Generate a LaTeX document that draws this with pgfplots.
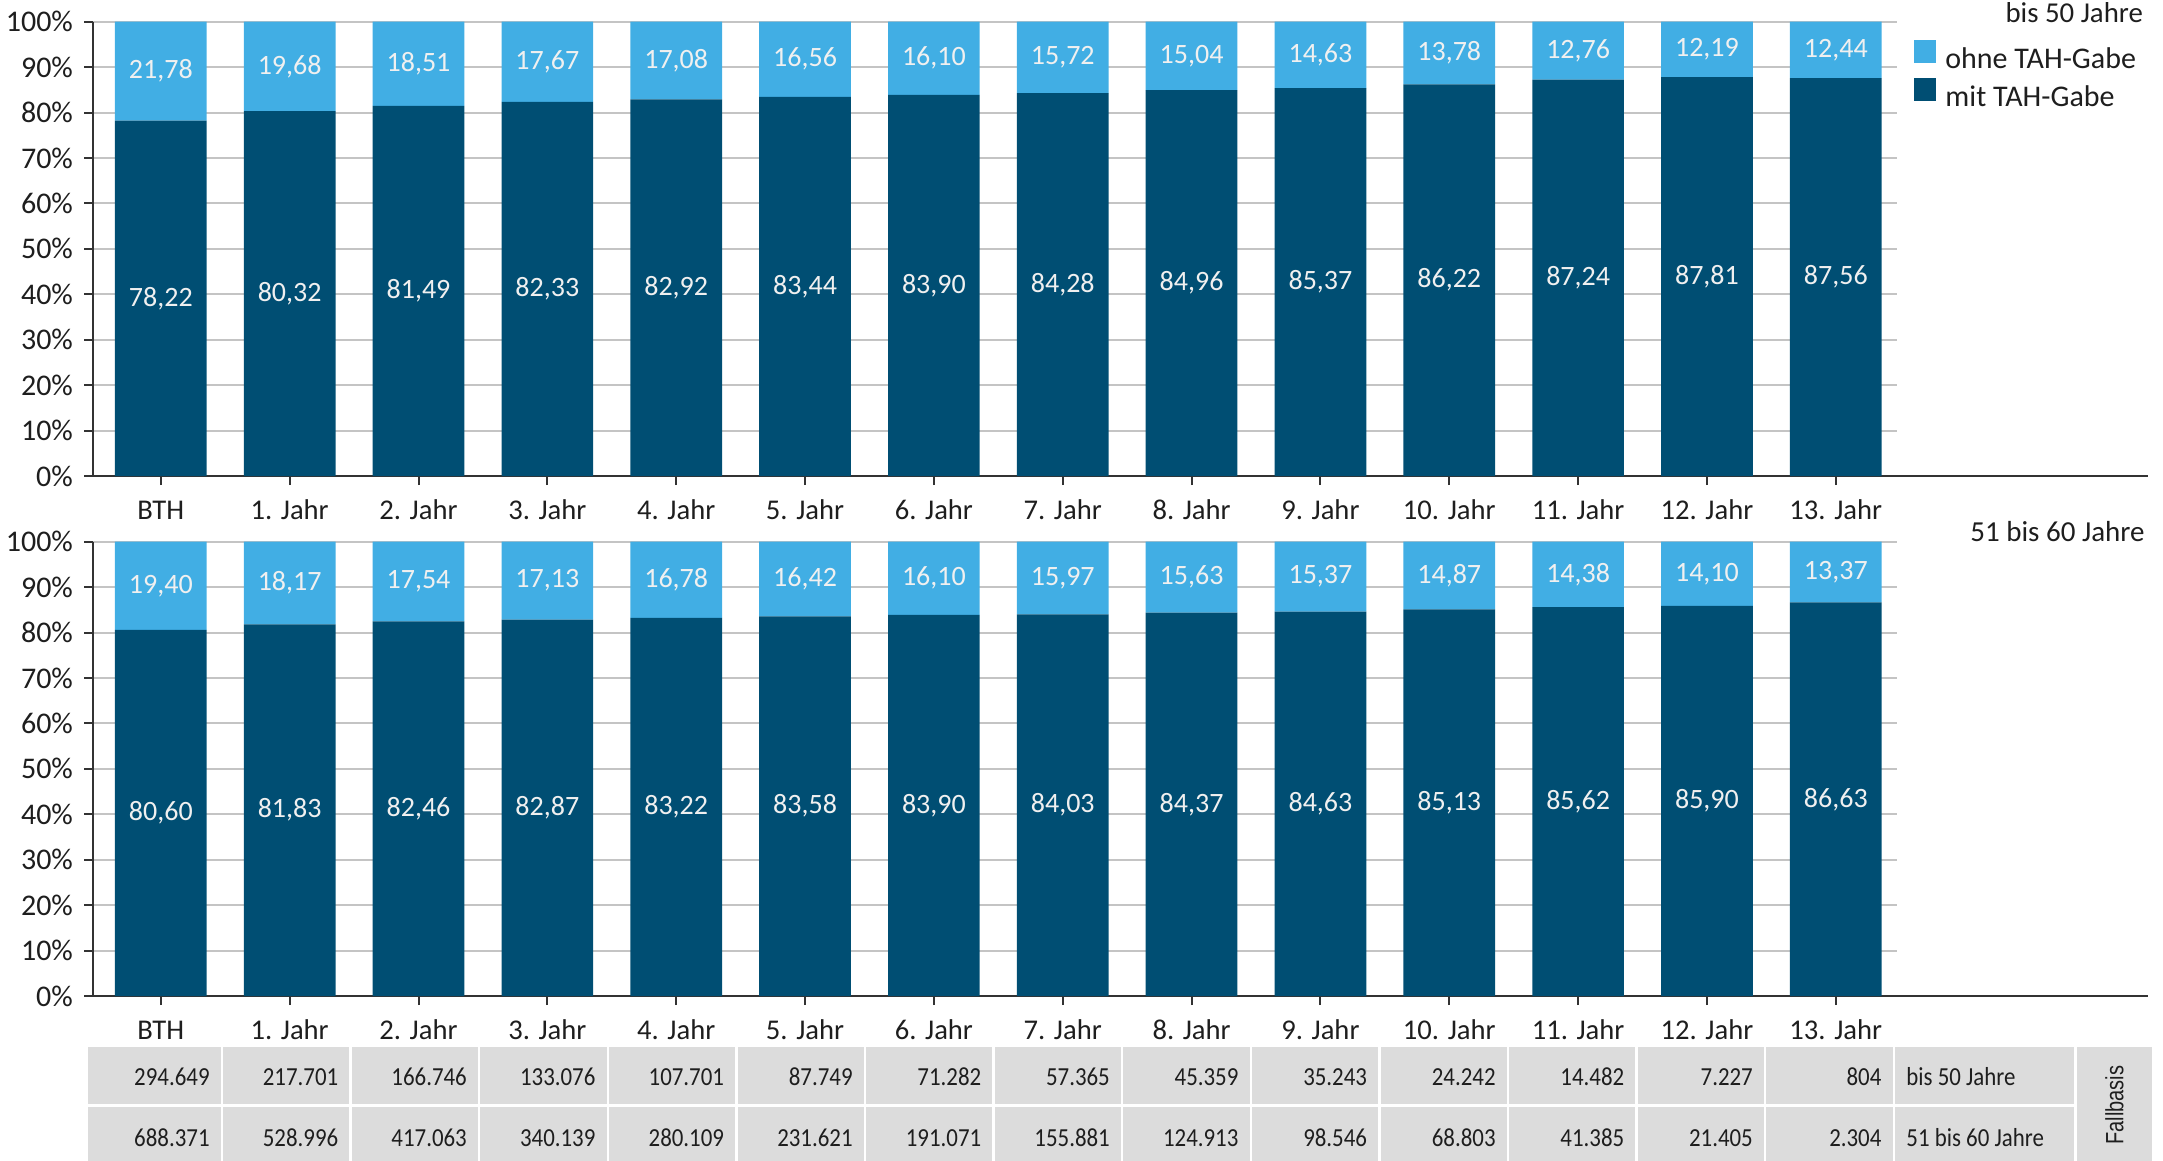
\documentclass[border=0pt]{standalone}
\usepackage{pgfplots}
\pgfplotsset{compat=1.18}
\usepackage{pgfplotstable}
\usepackage{fontspec}
\setmainfont{Carlito}
\newfontfamily\tabfont[FakeStretch=0.88]{Carlito}
\newfontfamily\fbfont[FakeStretch=0.8]{Liberation Sans}
\definecolor{ltblue}{RGB}{65,174,228}
\definecolor{dkblue}{RGB}{0,78,115}
\definecolor{gridc}{RGB}{196,196,196}
\definecolor{axc}{RGB}{51,51,51}
\definecolor{txt}{RGB}{30,30,30}
\definecolor{tabg}{RGB}{220,220,220}
\definecolor{lbl}{RGB}{240,240,240}

\pgfplotstableread{
x mit ohne
0 78.22 21.78
1 80.32 19.68
2 81.49 18.51
3 82.33 17.67
4 82.92 17.08
5 83.44 16.56
6 83.90 16.10
7 84.28 15.72
8 84.96 15.04
9 85.37 14.63
10 86.22 13.78
11 87.24 12.76
12 87.81 12.19
13 87.56 12.44
}\topdata
\pgfplotstableread{
x mit ohne
0 80.60 19.40
1 81.83 18.17
2 82.46 17.54
3 82.87 17.13
4 83.22 16.78
5 83.58 16.42
6 83.90 16.10
7 84.03 15.97
8 84.37 15.63
9 84.63 15.37
10 85.13 14.87
11 85.62 14.38
12 85.90 14.10
13 86.63 13.37
}\botdata

\pgfplotsset{
  panel/.style={
    scale only axis, width=901.85pt, height=227.15pt,
    xmin=-0.524, xmax=13.475, ymin=0, ymax=100,
    enlargelimits=false,
    ybar stacked, bar width=45.85pt,
    axis x line*=bottom, axis y line*=left,
    axis line style={axc, line width=1pt},
    ymajorgrids, grid style={gridc, line width=1pt},
    xtick={0,...,13},
    xticklabels={BTH,1. Jahr,2. Jahr,3. Jahr,4. Jahr,5. Jahr,6. Jahr,7. Jahr,8. Jahr,9. Jahr,10. Jahr,11. Jahr,12. Jahr,13. Jahr},
    ytick={0,10,...,100},
    yticklabels={0\%,10\%,20\%,30\%,40\%,50\%,60\%,70\%,80\%,90\%,100\%},
    tick align=outside, major tick length=4.5pt,
    tick style={axc, line width=1pt},
    x tick label style={font=\fontsize{14.3}{14.3}\selectfont, text=txt, inner sep=0pt, anchor=base, yshift=-17.15pt},
    y tick label style={font=\fontsize{15}{15}\selectfont, text=txt, inner sep=0pt, anchor=east, xshift=-5.5pt},
    clip=false,
    /pgf/number format/assume math mode=true,
    visualization depends on={rawy \as \segval},
    nodes near coords={\pgfmathprintnumber[fixed,fixed zerofill,precision=2,use comma]{\segval}},
    nodes near coords align={center},
    every node near coord/.append style={anchor=center, inner sep=0pt, font=\fontsize{14}{14}\selectfont, text=lbl},
  }
}

\begin{document}
\begin{tikzpicture}
\useasboundingbox (0,0) rectangle (1081.5pt,-580.5pt);

% ---------- top panel ----------
\begin{axis}[panel, at={(46.65pt,-238pt)}, anchor=south west,
  reverse legend,
  legend cell align=left,
  legend style={at={(1,1)}, anchor=north west, xshift=8.5pt, yshift=-8.8pt,
    draw=none, fill=none, inner sep=0pt, column sep=4.65pt,
    nodes={inner sep=0pt, text height=11.2pt, text depth=4.5pt, font=\fontsize{15}{15}\selectfont, text=txt}},
]
\addplot[fill=dkblue, draw=none,
  legend image code/.code={\fill[dkblue] (0pt,-0.5pt) rectangle (10.85pt,11.2pt);}]
  table[x=x, y=mit] {\topdata};
\addlegendentry{mit TAH-Gabe}
\addplot[fill=ltblue, draw=none,
  legend image code/.code={\fill[ltblue] (0pt,-0.5pt) rectangle (10.85pt,11.2pt);}]
  table[x=x, y=ohne] {\topdata};
\addlegendentry{ohne TAH-Gabe}
\draw[axc, line width=1pt] (rel axis cs:0,0) -- ++(1027.5pt,0pt);
\end{axis}

% ---------- bottom panel ----------
\begin{axis}[panel, at={(46.65pt,-498pt)}, anchor=south west]
\addplot[fill=dkblue, draw=none] table[x=x, y=mit] {\botdata};
\addplot[fill=ltblue, draw=none] table[x=x, y=ohne] {\botdata};
\draw[axc, line width=1pt] (rel axis cs:0,0) -- ++(1027.5pt,0pt);
\end{axis}

% panel titles
\node[anchor=base east, inner sep=0pt, font=\fontsize{14.4}{14.4}\selectfont, text=txt] at (1071.65pt,-11.35pt) {bis 50 Jahre};
\node[anchor=base east, inner sep=0pt, font=\fontsize{14.5}{14.5}\selectfont, text=txt] at (1072.5pt,-270.85pt) {51 bis 60 Jahre};

% ---------- Fallbasis table ----------
\fill[tabg] (43.85pt,-523.35pt) rectangle (1076.15pt,-585pt);
\foreach \k in {0,...,13} {
  \draw[white, line width=1.25pt] ({111pt+64.3pt*\k},-523.35pt) -- ({111pt+64.3pt*\k},-585pt);
}
\draw[white, line width=1.25pt] (1037.85pt,-523.35pt) -- (1037.85pt,-585pt);
\draw[white, line width=1.25pt] (43.85pt,-552.75pt) -- (1037.85pt,-552.75pt);

\def\rowA{294.649,217.701,166.746,133.076,107.701,87.749,71.282,57.365,45.359,35.243,24.242,14.482,7.227,804}
\def\rowB{688.371,528.996,417.063,340.139,280.109,231.621,191.071,155.881,124.913,98.546,68.803,41.385,21.405,2.304}
\foreach \v [count=\i from 0] in \rowA {
  \node[anchor=east, inner sep=0pt, font=\tabfont\fontsize{13}{13}\selectfont, text=txt] at ({105pt+64.3pt*\i},-538.5pt) {\v};
}
\foreach \v [count=\i from 0] in \rowB {
  \node[anchor=east, inner sep=0pt, font=\tabfont\fontsize{13}{13}\selectfont, text=txt] at ({105pt+64.3pt*\i},-569pt) {\v};
}
\node[anchor=west, inner sep=0pt, font=\tabfont\fontsize{13}{13}\selectfont, text=txt] at (953pt,-538.5pt) {bis 50 Jahre};
\node[anchor=west, inner sep=0pt, font=\tabfont\fontsize{13}{13}\selectfont, text=txt] at (953pt,-569pt) {51 bis 60 Jahre};
\node[rotate=90, inner sep=0pt, font=\fbfont\fontsize{12.5}{12.5}\selectfont, text=txt] at (1057.15pt,-552.5pt) {Fallbasis};
\end{tikzpicture}
\end{document}
